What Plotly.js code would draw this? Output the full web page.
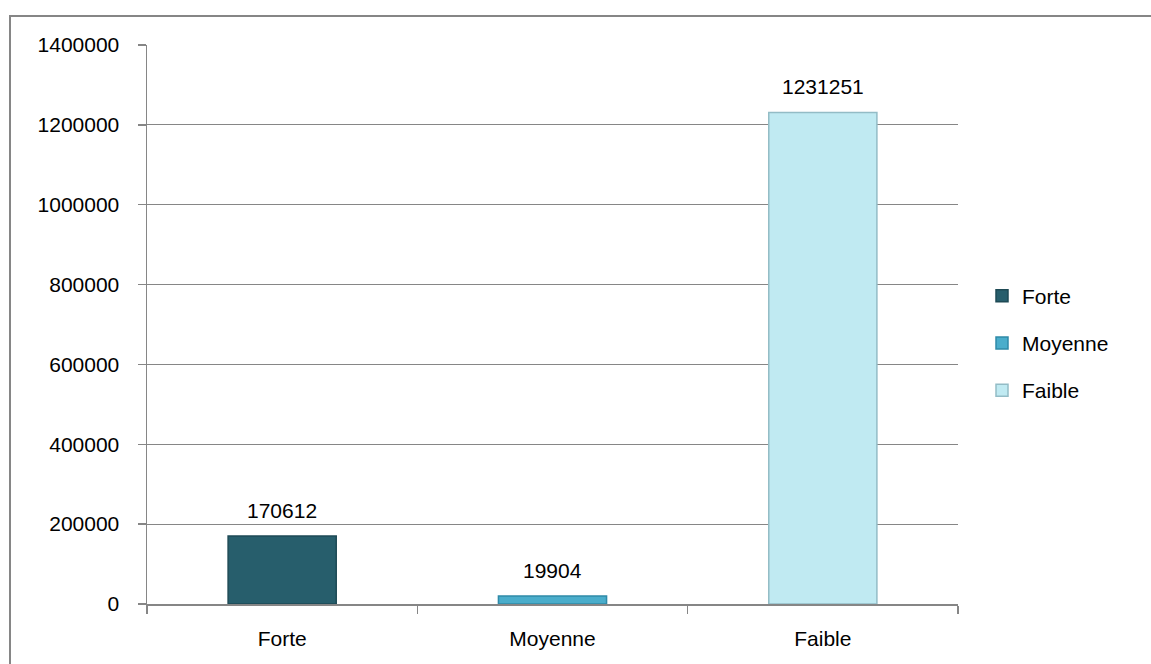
<!DOCTYPE html>
<html>
<head>
<meta charset="utf-8">
<script src="https://cdn.plot.ly/plotly-3.0.1.min.js"></script>
<style>html,body{margin:0;padding:0;background:#fff;}#chart{width:1151px;height:664px;}</style>
</head>
<body>
<div id="chart"></div>
<script>
var categories = ["Forte", "Moyenne", "Faible"];
var values = [170612, 19904, 1231251];
var colors = ["#275E6C", "#4AADCB", "#C0EAF2"];
var lineColors = ["#1E4A55", "#2F8AA8", "#93BCC6"];
var yTicks = [0, 200000, 400000, 600000, 800000, 1000000, 1200000, 1400000];

var L = 147, R = 958, T = 45, B = 604, W = 1151, H = 664;
function px(x){ return (x - L) / (R - L); }
function py(y){ return (B - y) / (B - T); }

var FONT = "Liberation Sans, Arial, sans-serif";

var traces = categories.map(function(c, i){
  return {
    type: "bar",
    x: [c],
    y: [values[i]],
    name: c,
    legendgroup: c,
    width: 0.4,
    marker: {color: colors[i], line: {color: lineColors[i], width: 1.5}},
    hoverinfo: "x+y"
  };
});

var annotations = categories.map(function(c, i){
  return {
    x: c, y: values[i], xref: "x", yref: "y",
    text: String(values[i]), showarrow: false,
    yanchor: "bottom", yshift: 12,
    font: {family: FONT, size: 21, color: "#000"}
  };
});

var layout = {
  width: W, height: H,
  margin: {l: L, r: W - R, t: T, b: H - B, pad: 0},
  paper_bgcolor: "#fff", plot_bgcolor: "#fff",
  barmode: "overlay",
  showlegend: true,
  font: {family: FONT, size: 21, color: "#000"},
  legend: {x: px(982), y: py(343), xanchor: "left", yanchor: "middle",
           font: {size: 21}, traceorder: "grouped", tracegroupgap: 17,
           itemwidth: 30, bgcolor: "rgba(0,0,0,0)"},
  xaxis: {
    type: "category", range: [-0.5, 2.5],
    showline: true, linecolor: "#868686", linewidth: 1.5,
    ticks: "outside", ticklen: 8, tickcolor: "#868686", tickwidth: 1.5,
    tickson: "boundaries", ticklabelstandoff: 15,
    showgrid: false, zeroline: false, fixedrange: true
  },
  yaxis: {
    range: [0, 1400000], tickvals: yTicks, ticktext: yTicks.map(String),
    showline: true, linecolor: "#868686", linewidth: 1.5,
    ticks: "outside", ticklen: 8, tickcolor: "#868686", tickwidth: 1.5,
    ticklabelstandoff: 14,
    showgrid: true, gridcolor: "#868686", gridwidth: 1.2,
    zeroline: false, fixedrange: true
  },
  annotations: annotations,
  shapes: [{
    type: "rect", xref: "paper", yref: "paper",
    x0: px(10), x1: px(1170), y0: py(690), y1: py(16),
    line: {color: "#868686", width: 2}, fillcolor: "rgba(0,0,0,0)", layer: "below"
  }]
};

Plotly.newPlot("chart", traces, layout, {displayModeBar: false, staticPlot: true});
</script>
</body>
</html>
